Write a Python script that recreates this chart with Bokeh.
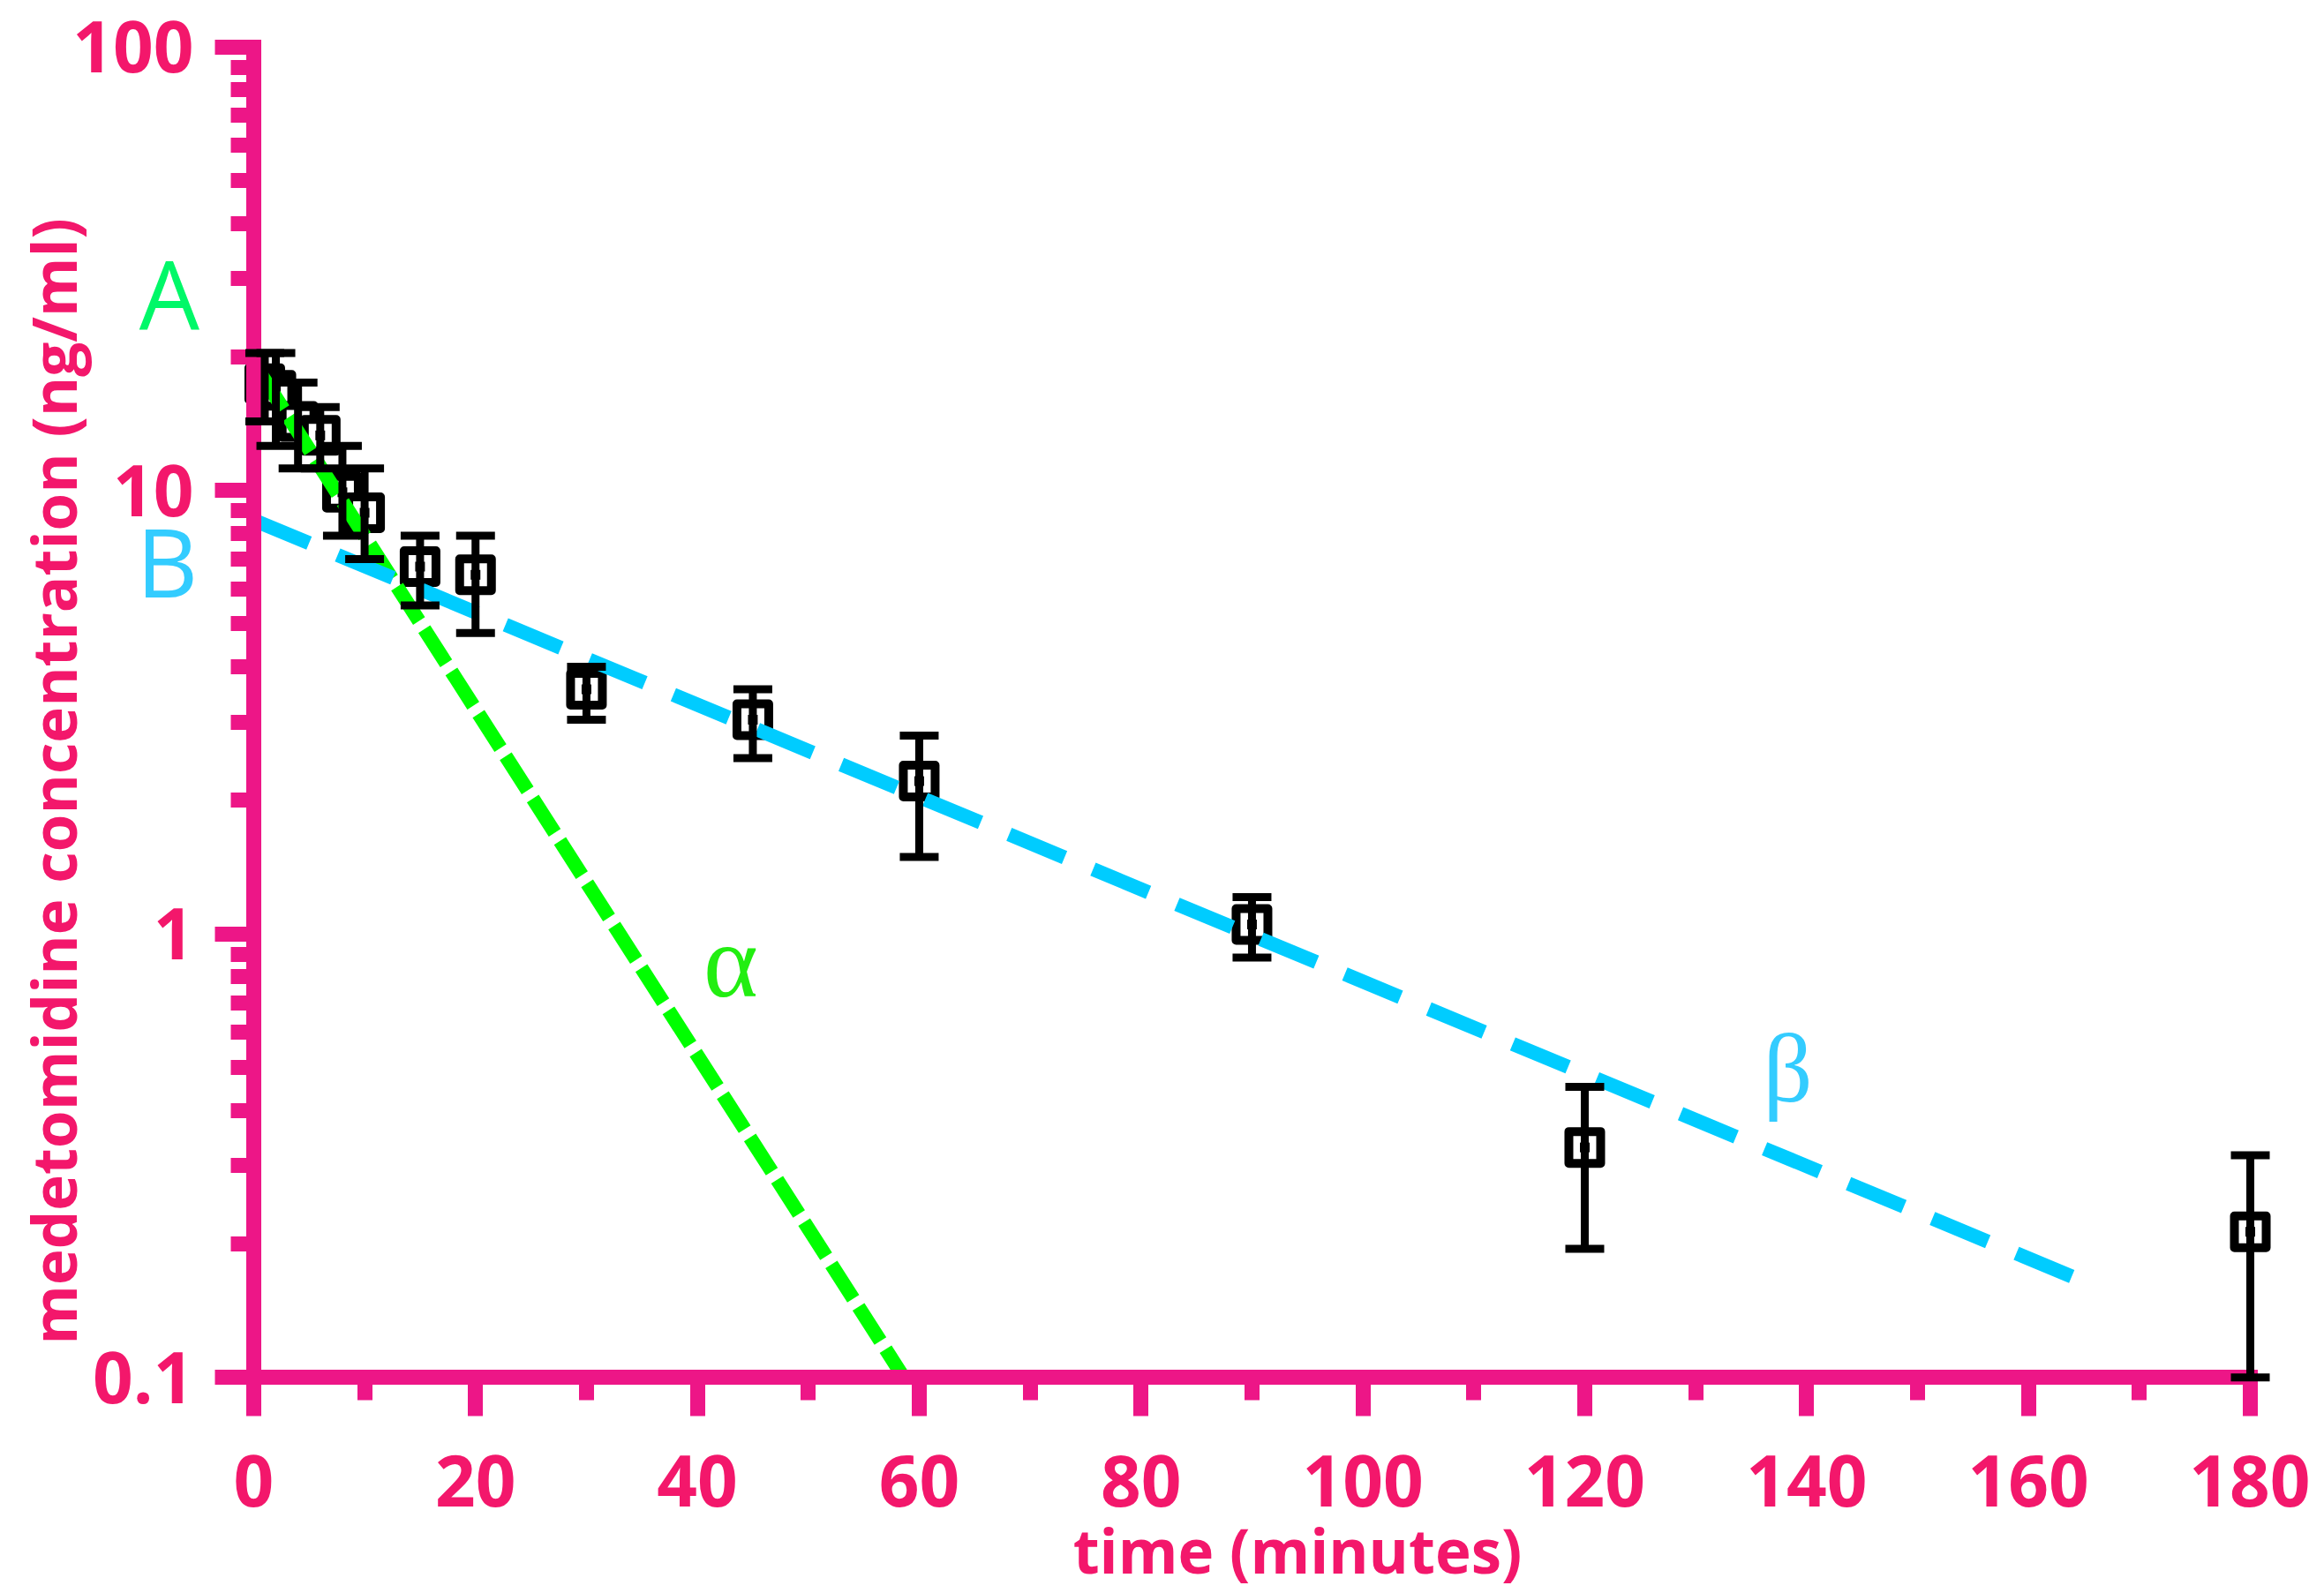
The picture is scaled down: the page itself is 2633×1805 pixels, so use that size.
from bokeh.plotting import figure
from bokeh.models import (Range1d, Whisker, TeeHead, ColumnDataSource, Label,
                          FixedTicker, CustomJSTickFormatter, LinearAxis, LogAxis)
from bokeh.embed import file_html
from bokeh.resources import INLINE

# ---- data ----
time_min   = [1, 2, 4, 6, 8, 10, 15, 20, 30, 45, 60, 90, 120, 180]
conc_mean  = [17.4, 16.8, 14.3, 13.3, 9.9, 8.9, 6.73, 6.45, 3.56, 3.04, 2.21, 1.05, 0.33, 0.213]
conc_upper = [20.4, 20.4, 17.5, 15.4, 12.6, 11.2, 7.9, 7.9, 4.0, 3.56, 2.80, 1.21, 0.452, 0.317]
conc_lower = [14.3, 12.6, 11.2, 11.2, 7.9, 7.0, 5.5, 4.77, 3.04, 2.49, 1.49, 0.884, 0.195, 0.1]

alpha_time = [0.7, 58.6]
alpha_conc = [18.2, 0.1]
beta_time  = [0, 165.9]
beta_conc  = [8.57, 0.161]

x_ticks       = [0, 20, 40, 60, 80, 100, 120, 140, 160, 180]
x_minor_ticks = [10, 30, 50, 70, 90, 110, 130, 150, 170]
y_ticks       = [0.1, 1, 10, 100]
y_minor_ticks = [0.2, 0.3, 0.4, 0.5, 0.6, 0.7, 0.8, 0.9,
                 2, 3, 4, 5, 6, 7, 8, 9,
                 20, 30, 40, 50, 60, 70, 80, 90]

AXIS_PINK = "#ED1687"
LABEL_PINK = "#F3176B"
GREEN = "#00FF00"
BLUE = "#00CCFF"

# The frame fills the whole canvas; the axes sit at fixed data locations
p = figure(width=2617, height=1795, title=None,
           x_range=Range1d(-22.83, 185.41), y_range=Range1d(0.03411, 127.2),
           y_axis_type="log", output_backend="svg", toolbar_location=None,
           min_border_left=0, min_border_right=0,
           min_border_top=0, min_border_bottom=0)
p.grid.visible = False
p.outline_line_color = None
p.background_fill_color = "white"

xa = p.xaxis[0]
ya = p.yaxis[0]
xa.fixed_location = 0.1
ya.fixed_location = 0
xa.bounds = (0, 180)
ya.bounds = (0.1, 100)
xa.ticker = FixedTicker(ticks=x_ticks, minor_ticks=x_minor_ticks)
ya.ticker = FixedTicker(ticks=y_ticks, minor_ticks=y_minor_ticks)
ya.formatter = CustomJSTickFormatter(code="return String(tick);")

for ax in (xa, ya):
    ax.axis_line_color = AXIS_PINK
    ax.axis_line_width = 17
    ax.axis_line_cap = "square"
    ax.major_tick_line_color = AXIS_PINK
    ax.major_tick_line_width = 17
    ax.major_tick_in = 0
    ax.major_tick_out = 44
    ax.minor_tick_line_color = AXIS_PINK
    ax.minor_tick_line_width = 17
    ax.minor_tick_in = 0
    ax.minor_tick_out = 26
    ax.major_label_text_font = "Open Sans"
    ax.major_label_text_font_style = "bold"
    ax.major_label_text_font_size = "80px"
    ax.major_label_text_color = LABEL_PINK

xa.major_label_standoff = 44
ya.major_label_standoff = 24

# axes that carry only the axis titles (placed as in the original artwork)
x_title_axis = LinearAxis(fixed_location=0.1, bounds=(8.2, 180),
                          ticker=FixedTicker(ticks=[], minor_ticks=[]),
                          axis_label="time (minutes)", axis_line_color=None,
                          major_tick_line_color=None, minor_tick_line_color=None,
                          major_tick_out=0, minor_tick_out=0,
                          axis_label_standoff=148)
y_title_axis = LogAxis(fixed_location=0, bounds=(0.0488, 100),
                       ticker=FixedTicker(ticks=[], minor_ticks=[]),
                       axis_label="medetomidine concentration (ng/ml)",
                       axis_line_color=None,
                       major_tick_line_color=None, minor_tick_line_color=None,
                       major_tick_out=0, minor_tick_out=0,
                       axis_label_standoff=181)
for ax in (x_title_axis, y_title_axis):
    ax.axis_label_text_font = "Open Sans"
    ax.axis_label_text_font_style = "bold"
    ax.axis_label_text_font_size = "69px"
    ax.axis_label_text_color = LABEL_PINK
p.add_layout(x_title_axis, "below")
p.add_layout(y_title_axis, "left")

src = ColumnDataSource(dict(t=time_min, c=conc_mean, up=conc_upper, lo=conc_lower))

err = Whisker(source=src, base="t", upper="up", lower="lo", dimension="height",
              line_color="black", line_width=9, level="guide",
              upper_head=TeeHead(size=44, line_width=9, line_color="black"),
              lower_head=TeeHead(size=44, line_width=9, line_color="black"))
p.add_layout(err)

p.scatter("t", "c", source=src, marker="square", size=36, line_width=10,
          line_color="black", fill_color="white", line_join="round", level="guide")
p.scatter("t", "c", source=src, marker="square", size=11, line_color=None,
          fill_color="black", level="guide")

p.line(alpha_time, alpha_conc, line_color=GREEN, line_width=16, line_dash="46 11",
       level="guide")
p.line(beta_time, beta_conc, line_color=BLUE, line_width=16, line_dash="68 35",
       level="guide")

for txt, x, y, col, font, size in [
        ("A", -7.6, 27.8, "#00F868", "Open Sans", "108px"),
        ("B", -7.8, 6.92, "#33CCFF", "Open Sans", "108px"),
        ("α", 43.0, 0.865, "#22EE11", "Liberation Serif", "118px"),
        ("β", 138.3, 0.497, "#33CCFF", "Liberation Serif", "110px")]:
    p.add_layout(Label(x=x, y=y, text=txt, text_color=col, text_font=font,
                       text_font_size=size, text_align="center",
                       text_baseline="middle"))

open("out.html", "w").write(file_html(p, INLINE))
